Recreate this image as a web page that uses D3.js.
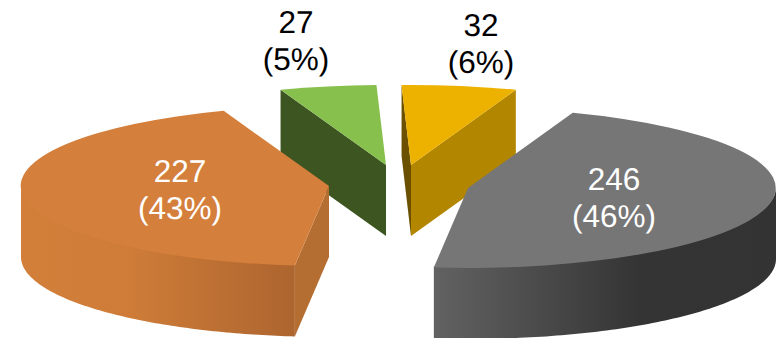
<!DOCTYPE html>
<html>
<head>
<meta charset="utf-8">
<script src="https://cdn.jsdelivr.net/npm/d3@7"></script>
<style>
html,body{margin:0;padding:0;background:#fff;overflow:hidden}
svg{display:block}
text{font-family:"Liberation Sans",Arial,sans-serif;font-size:31.5px;text-anchor:middle;text-rendering:geometricPrecision}
</style>
</head>
<body>
<svg id="chart" width="777" height="338"></svg>
<script>
// Data, in the clockwise order of the pie
const categories = ["A", "B", "C", "D"];
const values = [246, 227, 27, 32];
const valueLabels = ["246", "227", "27", "32"];
const percentLabels = ["(46%)", "(43%)", "(5%)", "(6%)"];

// Styling and layout, per slice
const topColors = ["#767676", "#D47F3B", "#87C04D", "#EDB200"];
const startFaceColors = [null, "#B56E32", "#3C5521", "#6B5000"];
const endFaceColors = [null, null, null, "#B38600"];
const wallStops = [
  [[0, "#626262"], [0.6, "#343434"], [1, "#333333"]],
  [[0, "#D27F3A"], [0.4, "#CE7C38"], [1, "#AD652F"]],
  null,
  null
];
const centresX = [468, 329, 386, 411];
const centresY = [188, 186, 165, 165];
const labelX = [614, 180, 296, 481];
const labelY = [190, 182, 33, 36];
const labelColors = ["#fff", "#fff", "#000", "#000"];
const drawOrder = [2, 3, 1, 0];

const RX = 308, RY = 80, DEPTH = 71, LINE = 37;
const rad = Math.PI / 180;

const svg = d3.select("#chart");
const defs = svg.append("defs");

const arcs = d3.pie().sort(null).value(d => d)
  .startAngle(19.9 * rad).endAngle(379.9 * rad)(values);

const sx = d3.scaleLinear().domain([0, 1]).range([0, RX]);
const sy = d3.scaleLinear().domain([0, 1]).range([0, RY]);
const topArc = d3.arc().innerRadius(0).outerRadius(1);
const line = d3.line();

const pt = (i, ang, dz = 0) => [
  centresX[i] + sx(Math.sin(ang)),
  centresY[i] - sy(Math.cos(ang)) + dz
];

drawOrder.forEach(i => {
  const a = arcs[i];
  const g = svg.append("g");
  const c0 = [centresX[i], centresY[i]];
  const c1 = [centresX[i], centresY[i] + DEPTH];

  // visible cut faces
  const face = (ang, colour) => {
    if (!colour) return;
    const p = pt(i, ang);
    g.append("path")
      .attr("d", line([c0, p, [p[0], p[1] + DEPTH], c1]) + "Z")
      .attr("fill", colour);
  };
  face(a.startAngle, startFaceColors[i]);
  face(a.endAngle, endFaceColors[i]);

  // curved outer wall: only the part facing the viewer.
  // Its upper edge runs 1px under the top face so no light seam shows.
  const lo = Math.max(a.startAngle, 90 * rad), hi = Math.min(a.endAngle, 270 * rad);
  if (hi > lo && wallStops[i]) {
    const gid = "wall" + i;
    const angs = d3.range(97).map(k => lo + (hi - lo) * k / 96);
    const upper = angs.map(t => pt(i, t, -1));
    const lower = angs.slice().reverse().map(t => pt(i, t, DEPTH));
    const xr = d3.extent(upper, p => p[0]);
    const grad = defs.append("linearGradient").attr("id", gid)
      .attr("gradientUnits", "userSpaceOnUse")
      .attr("x1", xr[0]).attr("x2", xr[1]).attr("y1", 0).attr("y2", 0);
    wallStops[i].forEach(s => grad.append("stop").attr("offset", s[0]).attr("stop-color", s[1]));
    g.append("path").attr("d", line(upper.concat(lower)) + "Z").attr("fill", `url(#${gid})`);
  }

  // top face
  g.append("path")
    .attr("transform", `translate(${centresX[i]},${centresY[i]}) scale(${RX},${RY})`)
    .attr("d", topArc(a))
    .attr("fill", topColors[i]);
});

// labels
values.forEach((v, i) => {
  const t = svg.append("text").attr("fill", labelColors[i]).attr("data-category", categories[i]);
  t.append("tspan").attr("x", labelX[i]).attr("y", labelY[i]).text(valueLabels[i]);
  t.append("tspan").attr("x", labelX[i]).attr("y", labelY[i] + LINE).text(percentLabels[i]);
});
</script>
</body>
</html>
